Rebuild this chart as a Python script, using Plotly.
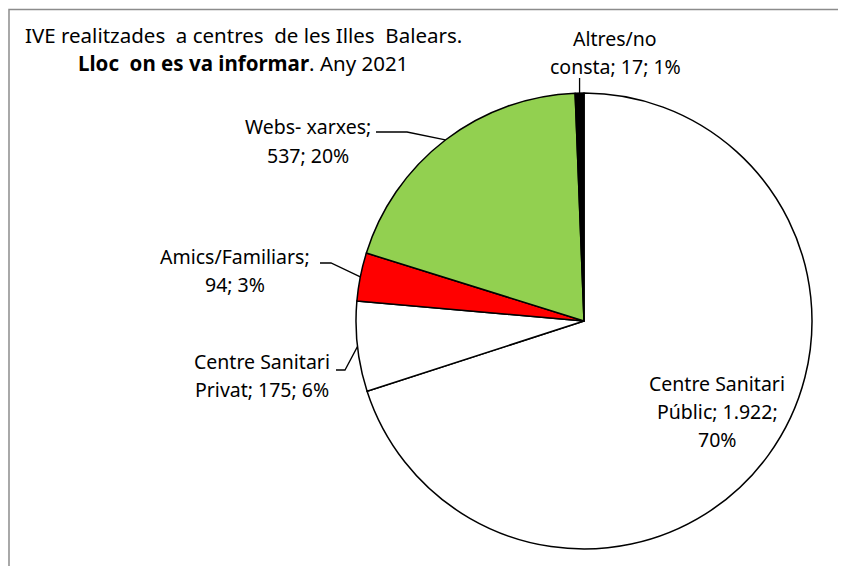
import math

import plotly.graph_objects as go

# page has an 8px body margin, so the figure is drawn 8px in
OFF = 8
W, H = 846, 566

labels = ["Centre Sanitari Públic", "Centre Sanitari Privat", "Amics/Familiars",
          "Webs- xarxes", "Altres/no consta"]
values = [1922, 175, 94, 537, 17]
colors = ["#FFFFFF", "#FFFFFF", "#FF0000", "#92D050", "#000000"]

# label text, split per line
label_lines = [
    ["Centre Sanitari", "Públic; 1.922;", "70%"],
    ["Centre Sanitari", "Privat; 175; 6%"],
    ["Amics/Familiars;", "94; 3%"],
    ["Webs- xarxes;", "537; 20%"],
    ["Altres/no", "consta; 17; 1%"],
]

# pie geometry in screen pixels
CX, CY, R = 584, 321, 228
# label centre x, first line y, leader start / elbow
label_pos = [
    (717, 383, None),
    (262, 361, (336, 370, 345)),
    (235, 256, (320, 263, 331)),
    (308, 127, (376, 132, 407)),
    (615, 38, (581, 78, None)),
]
LINE_GAP = 28
FONT = "Noto Sans"
FS = 19.5


def px(x, y):
    return (x - OFF) / W, 1 - (y - OFF) / H


fig = go.Figure()
dx0, dy0 = px(CX - R, CY + R)
dx1, dy1 = px(CX + R, CY - R)
fig.add_trace(go.Pie(
    labels=labels, values=values,
    sort=False, direction="clockwise", rotation=0,
    marker=dict(colors=colors, line=dict(color="#000000", width=1.5)),
    textinfo="none",
    domain=dict(x=[dx0, dx1], y=[dy0, dy1]),
    showlegend=False,
))

annotations = []
shapes = []

# title
for i, t in enumerate(["IVE realitzades  a centres  de les Illes  Balears.",
                       "<b>Lloc  on es va informar</b>. Any 2021"]):
    x, y = px(243, 35 + i * LINE_GAP)
    annotations.append(dict(x=x, y=y, xref="paper", yref="paper", text=t,
                            showarrow=False, xanchor="center", yanchor="middle",
                            font=dict(size=20.5, color="#000", family=FONT)))

total = sum(values)
cum = 0
for v, lines, (lx, ly, leader) in zip(values, label_lines, label_pos):
    mid = (cum + v / 2) / total * 2 * math.pi
    cum += v
    for i, t in enumerate(lines):
        x, y = px(lx, ly + i * LINE_GAP)
        annotations.append(dict(x=x, y=y, xref="paper", yref="paper", text=t,
                                showarrow=False, xanchor="center", yanchor="middle",
                                font=dict(size=FS, color="#000", family=FONT)))
    if leader:
        ex, ey = CX + R * math.sin(mid), CY - R * math.cos(mid)
        sx, sy, elbow = leader
        if elbow is not None:
            pts = [(sx, sy), (elbow, sy)]
        else:
            pts = [(ex, sy)]
        pts.append((ex, ey))
        path = "M " + " L ".join(f"{px(a, b)[0]:.5f},{px(a, b)[1]:.5f}" for a, b in pts)
        shapes.append(dict(type="path", path=path, xref="paper", yref="paper",
                           line=dict(color="#000", width=1.3)))

# chart area border, only top and left edges are in view
bx0, by0 = px(7.5, 9.5)
bx0 = max(bx0, 1 / W)
shapes.append(dict(type="path", xref="paper", yref="paper",
                   path=f"M {bx0:.5f},-0.1 L {bx0:.5f},{by0:.5f} L 1.1,{by0:.5f}",
                   line=dict(color="#8C8C8C", width=1.5)))

fig.update_layout(
    width=W, height=H,
    margin=dict(l=0, r=0, t=0, b=0),
    paper_bgcolor="#FFFFFF",
    plot_bgcolor="#FFFFFF",
    annotations=annotations,
    shapes=shapes,
)

fig.write_html("out.html")
